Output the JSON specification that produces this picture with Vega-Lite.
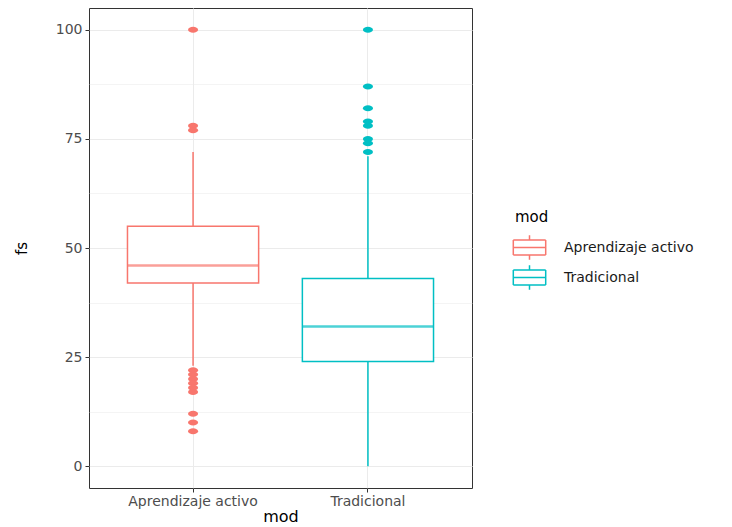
{
  "$schema": "https://vega.github.io/schema/vega-lite/v6.json",
  "width": 383,
  "height": 480,
  "autosize": {"type": "none"},
  "padding": {"left": 89, "top": 8, "right": 260, "bottom": 39},
  "background": "white",
  "config": {
    "font": "DejaVu Sans",
    "view": {"stroke": "#333333", "strokeWidth": 1}
  },
  "datasets": {
    "stats": [
      {"mod": "Aprendizaje activo", "lower": 23, "q1": 42, "median": 46, "q3": 55, "upper": 72},
      {"mod": "Tradicional", "lower": 0, "q1": 24, "median": 32, "q3": 43, "upper": 71}
    ],
    "outliers": [
      {"mod": "Aprendizaje activo", "fs": 100},
      {"mod": "Aprendizaje activo", "fs": 78},
      {"mod": "Aprendizaje activo", "fs": 77},
      {"mod": "Aprendizaje activo", "fs": 22},
      {"mod": "Aprendizaje activo", "fs": 21},
      {"mod": "Aprendizaje activo", "fs": 20},
      {"mod": "Aprendizaje activo", "fs": 19},
      {"mod": "Aprendizaje activo", "fs": 18},
      {"mod": "Aprendizaje activo", "fs": 17},
      {"mod": "Aprendizaje activo", "fs": 12},
      {"mod": "Aprendizaje activo", "fs": 10},
      {"mod": "Aprendizaje activo", "fs": 8},
      {"mod": "Tradicional", "fs": 100},
      {"mod": "Tradicional", "fs": 87},
      {"mod": "Tradicional", "fs": 82},
      {"mod": "Tradicional", "fs": 79},
      {"mod": "Tradicional", "fs": 78},
      {"mod": "Tradicional", "fs": 75},
      {"mod": "Tradicional", "fs": 74},
      {"mod": "Tradicional", "fs": 72}
    ]
  },
  "encoding": {
    "x": {
      "field": "mod",
      "type": "nominal",
      "title": "mod",
      "scale": {"type": "band", "paddingInner": 0.25, "paddingOuter": 0.22},
      "axis": {
        "labelAngle": 0,
        "labelFontSize": 14,
        "labelColor": "#4D4D4D",
        "labelPadding": 2,
        "titleFontSize": 16,
        "titleFontWeight": "normal",
        "titleColor": "#000000",
        "titlePadding": 0,
        "domain": false,
        "tickColor": "#333333",
        "tickSize": 4,
        "grid": true,
        "gridColor": "#EBEBEB",
        "gridWidth": 1
      }
    }
  },
  "layer": [
    {
      "data": {"name": "stats"},
      "mark": {"type": "rule", "strokeWidth": 1.5},
      "encoding": {
        "y": {
          "field": "lower",
          "type": "quantitative",
          "title": "fs",
          "scale": {"domain": [-5, 105], "nice": false, "zero": false},
          "axis": {
            "values": [0, 12.5, 25, 37.5, 50, 62.5, 75, 87.5, 100],
            "labelExpr": "datum.value % 25 === 0 ? datum.label : ''",
            "labelFontSize": 14,
            "labelColor": "#4D4D4D",
            "labelPadding": 3,
            "titleFontSize": 15,
            "titleFontWeight": "normal",
            "titleColor": "#000000",
            "titlePadding": 26,
            "domain": false,
            "tickColor": "#333333",
            "tickSize": 4,
            "tickOpacity": {"condition": {"test": "datum.value % 25 === 0", "value": 1}, "value": 0},
            "grid": true,
            "gridColor": "#EBEBEB",
            "gridWidth": {"condition": {"test": "datum.value % 25 === 0", "value": 1.1}, "value": 0.55}
          }
        },
        "y2": {"field": "upper"},
        "stroke": {
          "field": "mod",
          "type": "nominal",
          "title": "mod",
          "scale": {"domain": ["Aprendizaje activo", "Tradicional"], "range": ["#F8766D", "#00BFC4"]},
          "legend": {
            "orient": "none",
            "legendX": 426,
            "legendY": 202,
            "titleFontSize": 15,
            "titleFontWeight": "normal",
            "titleColor": "#000000",
            "titlePadding": 8,
            "labelFontSize": 14,
            "labelColor": "#1A1A1A",
            "labelOffset": 20,
            "symbolType": "M-1.2,-0.55H1.2M1.2,-0.55V0.55M1.2,0.55H-1.2M-1.2,0.55V-0.55M-1.2,0H1.2M0,-0.55V-0.9M0,0.55V0.9",
            "symbolSize": 729,
            "symbolStrokeWidth": 1.5,
            "rowPadding": -2,
            "padding": 0
          }
        }
      }
    },
    {
      "data": {"name": "stats"},
      "mark": {"type": "bar", "fill": "white", "strokeWidth": 1.5},
      "encoding": {
        "y": {"field": "q1", "type": "quantitative"},
        "y2": {"field": "q3"},
        "stroke": {"field": "mod", "type": "nominal"}
      }
    },
    {
      "data": {"name": "stats"},
      "mark": {"type": "tick", "thickness": 2.5, "size": 131},
      "encoding": {
        "y": {"field": "median", "type": "quantitative"},
        "fill": {
          "field": "mod",
          "type": "nominal",
          "scale": {"domain": ["Aprendizaje activo", "Tradicional"], "range": ["#F8766D", "#00BFC4"]},
          "legend": null
        }
      }
    },
    {
      "data": {"name": "outliers"},
      "mark": {"type": "point", "filled": true, "opacity": 1, "size": 100, "shape": "M-1,0A1,0.6,0,1,0,1,0A1,0.6,0,1,0,-1,0Z"},
      "encoding": {
        "y": {"field": "fs", "type": "quantitative"},
        "fill": {"field": "mod", "type": "nominal", "legend": null}
      }
    }
  ]
}
